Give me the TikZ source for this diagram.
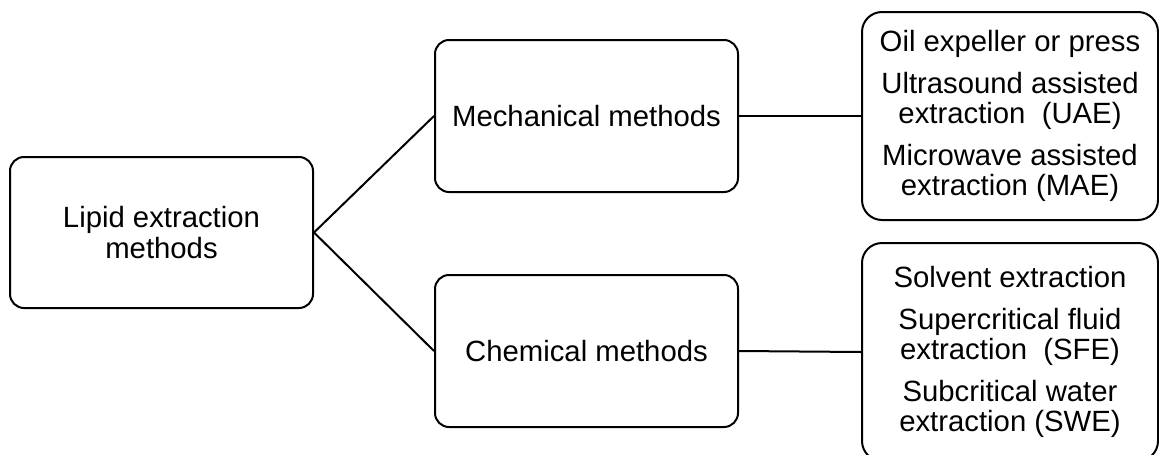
\documentclass[tikz,border=0pt]{standalone}
\usepackage{fontspec}
\setmainfont{Liberation Sans}
\begin{document}
\begin{tikzpicture}[x=1pt,y=-1pt,
  box/.style={draw=black, line width=2pt, rounded corners=14pt, inner sep=0pt, align=center,
    font={\fontsize{29.3}{30.5}\selectfont}},
  listbox/.style={box, rounded corners=20pt},
  conn/.style={draw=black, line width=2pt}]
\useasboundingbox (0,0) rectangle (1159,455);
\node[box, minimum width=303pt, minimum height=151pt] (root) at (161.5,232.5) {Lipid extraction\\methods};
\node[box, minimum width=303pt, minimum height=152pt] (mech) at (586.5,116) {Mechanical methods};
\node[box, minimum width=303pt, minimum height=152pt] (chem) at (586.5,351) {Chemical methods};
\node[listbox, minimum width=296pt, minimum height=208pt] (tr) at (1010,116)
  {Oil expeller or press\\[11pt]Ultrasound assisted\\extraction\ \ (UAE)\\[11pt]Microwave assisted\\extraction (MAE)};
\node[listbox, minimum width=296pt, minimum height=218pt] (br) at (1010,352)
  {Solvent extraction\\[11pt]Supercritical fluid\\extraction\ \ (SFE)\\[11pt]Subcritical water\\extraction (SWE)};
\draw[conn] (root.east) -- (mech.west);
\draw[conn] (root.east) -- (chem.west);
\draw[conn] (mech.east) -- (tr.west);
\draw[conn] (chem.east) -- (br.west);
\end{tikzpicture}
\end{document}
